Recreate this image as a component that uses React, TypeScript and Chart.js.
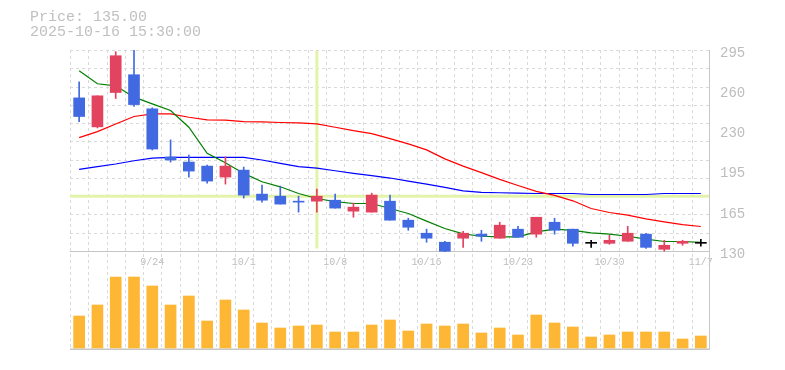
import React, { useEffect, useRef } from 'react';
import { Chart, registerables } from 'chart.js';

Chart.register(...registerables);

// ---------- data ----------
const DATES = [
  '9/17', '9/18', '9/19', '9/22', '9/24', '9/25', '9/26', '9/29', '9/30', '10/1',
  '10/2', '10/3', '10/6', '10/7', '10/8', '10/9', '10/10', '10/14', '10/15', '10/16',
  '10/17', '10/20', '10/21', '10/22', '10/23', '10/24', '10/27', '10/28', '10/29', '10/30',
  '10/31', '11/4', '11/5', '11/6', '11/7',
];

const OPEN = [
  255.7, 231.9, 260.1, 274.7, 246.7, 207.2, 203.0, 199.7, 190.7, 196.4,
  176.7, 175.0, 170.4, 170.9, 171.7, 162.7, 161.9, 170.9, 155.3, 144.6,
  137.2, 140.5, 143.8, 140.5, 147.9, 143.8, 153.6, 147.9, 136.3, 136.3,
  138.0, 143.8, 131.4, 136.3, 136.3,
];
const CLOSE = [
  240.4, 257.4, 290.3, 250.2, 213.7, 204.7, 195.6, 187.4, 199.7, 175.9,
  171.7, 168.5, 170.1, 175.0, 165.2, 166.0, 175.9, 155.3, 149.5, 140.5,
  129.8, 144.6, 142.1, 151.2, 141.3, 157.7, 147.0, 136.3, 136.3, 138.8,
  144.6, 133.0, 134.7, 138.0, 136.3,
];
const HIGH = [
  268.9, 257.4, 293.6, 295.0, 247.5, 221.2, 208.8, 200.5, 207.2, 198.9,
  184.1, 183.3, 175.0, 180.8, 176.7, 169.3, 177.5, 175.9, 156.9, 147.9,
  138.0, 146.2, 147.0, 153.6, 150.3, 157.7, 156.9, 147.9, 138.8, 142.9,
  150.3, 144.6, 138.8, 138.8, 139.6,
];
const LOW = [
  236.2, 231.0, 255.2, 248.6, 212.9, 203.0, 190.7, 185.7, 184.9, 173.4,
  170.1, 168.5, 161.9, 161.9, 165.2, 157.7, 161.9, 155.3, 147.0, 137.2,
  129.5, 133.0, 138.0, 140.5, 141.3, 141.3, 143.8, 133.9, 133.0, 135.5,
  138.0, 132.2, 129.8, 134.7, 133.9,
];

const MA_SHORT = [
  278.0, 267.3, 265.6, 256.3, 250.8, 245.3, 231.6, 210.2, 202.5, 193.7,
  186.8, 182.7, 177.2, 173.1, 170.6, 169.0, 169.0, 164.9, 160.8, 154.5,
  148.5, 144.1, 142.1, 141.6, 141.6, 145.7, 147.9, 147.0, 144.9, 143.8,
  142.1, 139.7, 137.8, 137.8, 137.0,
];
const MA_MID = [
  223.1, 228.0, 234.3, 240.4, 242.6, 242.6, 239.8, 237.6, 237.4, 236.2,
  236.0, 235.5, 235.2, 234.3, 231.6, 228.8, 226.4, 222.3, 217.9, 213.0,
  205.6, 199.7, 194.3, 188.8, 183.8, 178.9, 175.6, 171.2, 164.9, 161.6,
  159.4, 156.4, 153.9, 151.7, 150.1,
];
const MA_LONG = [
  197.0, 199.2, 201.4, 204.1, 206.3, 206.9, 206.9, 206.9, 206.9, 206.9,
  204.7, 202.0, 199.2, 198.1, 195.9, 193.7, 191.8, 189.9, 187.4, 184.9,
  182.2, 179.4, 178.1, 177.8, 177.5, 177.2, 177.2, 177.2, 176.4, 176.4,
  176.4, 176.4, 177.2, 177.2, 177.2,
];

const VOLUME = [
  32000, 43000, 71000, 71000, 62000, 43000, 52000, 27000, 48000, 38000,
  25000, 20000, 22000, 23000, 16000, 16000, 23000, 28000, 17000, 24000,
  22000, 24000, 15000, 20000, 13000, 33000, 25000, 21000, 11000, 13000,
  16000, 16000, 16000, 9000, 12000,
];

const PRICE_TICKS = [130, 163, 196, 229, 262, 295];
const PRICE_TICK_LABELS = ['130', '165', '195', '230', '260', '295'];
const PRICE_MIN = 130;
const PRICE_MAX = 295;
const PRICE_GRID_STEP = 15;
const X_LABEL_EVERY = 5;

const CROSS_INDEX = 13;
const CROSS_PRICE = 175;
const INFO_LINES = ['Price: 135.00', '2025-10-16 15:30:00'];

// ---------- layout / style ----------
const W = 785;
const H = 370;
const PRICE_SHARE = 201 / 300; // share of plot height used by price panel
const PRICE_AXIS_MIN = PRICE_MAX - (PRICE_MAX - PRICE_MIN) / PRICE_SHARE;
const VOL_AXIS_MIN = -2000;
const VOL_AXIS_MAX = 298000;

const UP = '#e2435f';
const DOWN = '#4169e1';
const FLAT = '#000000';
const VOL_COLOR = '#fdb734';
const GRID = '#d9d9d9';
const BORDER = '#c6c6c6';
const TEXT = '#bdbdbd';
const CROSS = '#e3f4aa';
const MONO = '"Liberation Mono", "DejaVu Sans Mono", monospace';

const candleColor = (i: number) =>
  CLOSE[i] > OPEN[i] ? UP : CLOSE[i] < OPEN[i] ? DOWN : FLAT;

const framePlugin = {
  id: 'frame',
  beforeDatasetsDraw(chart: any) {
    const { ctx, chartArea: a, scales } = chart;
    const x = scales.x;
    const y = scales.y;
    const slot = x.getPixelForValue(1) - x.getPixelForValue(0);
    const sepY = Math.round(y.getPixelForValue(PRICE_MIN)) + 0.5;
    ctx.save();
    // dashed grid
    ctx.strokeStyle = GRID;
    ctx.lineWidth = 1;
    ctx.setLineDash([3, 3]);
    ctx.beginPath();
    for (let i = 0; i < DATES.length; i++) {
      const px = Math.round(x.getPixelForValue(i) - slot / 2) + 0.5;
      ctx.moveTo(px, a.top);
      ctx.lineTo(px, a.bottom);
    }
    for (let v = PRICE_MIN + PRICE_GRID_STEP; v <= PRICE_MAX + 0.001; v += PRICE_GRID_STEP) {
      const py = Math.round(y.getPixelForValue(v)) + 0.5;
      ctx.moveTo(a.left, py);
      ctx.lineTo(a.right, py);
    }
    ctx.stroke();
    // crosshair
    ctx.setLineDash([]);
    ctx.strokeStyle = CROSS;
    ctx.lineWidth = 3;
    const cx = x.getPixelForValue(CROSS_INDEX);
    ctx.beginPath();
    ctx.moveTo(cx, a.top + 1);
    ctx.lineTo(cx, sepY - 3);
    ctx.stroke();
    const cy = y.getPixelForValue(CROSS_PRICE);
    ctx.beginPath();
    ctx.moveTo(a.left, cy);
    ctx.lineTo(a.right, cy);
    ctx.stroke();
    // solid borders
    ctx.strokeStyle = BORDER;
    ctx.lineWidth = 1;
    ctx.beginPath();
    ctx.moveTo(a.left, sepY);
    ctx.lineTo(a.right, sepY);
    ctx.moveTo(a.right - 0.5, a.top);
    ctx.lineTo(a.right - 0.5, a.bottom);
    ctx.stroke();
    ctx.lineWidth = 1.5;
    ctx.beginPath();
    ctx.moveTo(a.left, a.bottom - 0.75);
    ctx.lineTo(a.right, a.bottom - 0.75);
    ctx.stroke();
    ctx.restore();
  },
};

export default function App() {
  const ref = useRef<HTMLCanvasElement | null>(null);

  useEffect(() => {
    if (!ref.current) return;
    const colors = DATES.map((_, i) => candleColor(i));
    const chart = new Chart(ref.current, {
      type: 'bar',
      data: {
        labels: DATES,
        datasets: [
          {
            type: 'bar',
            label: 'Body',
            data: OPEN.map((o, i) => [o, CLOSE[i]]),
            backgroundColor: colors,
            barThickness: 11,
            grouped: false,
            minBarLength: 1,
            yAxisID: 'y',
            order: 0,
          } as any,
          {
            type: 'bar',
            label: 'Wick',
            data: LOW.map((l, i) => [l, HIGH[i]]),
            backgroundColor: colors,
            barThickness: 1,
            grouped: false,
            yAxisID: 'y',
            order: 1,
          } as any,
          {
            type: 'line',
            label: 'MA5',
            data: MA_SHORT,
            borderColor: '#008000',
            borderWidth: 1.2,
            pointRadius: 0,
            tension: 0,
            yAxisID: 'y',
            order: 2,
          } as any,
          {
            type: 'line',
            label: 'MA20',
            data: MA_MID,
            borderColor: '#ff0000',
            borderWidth: 1.2,
            pointRadius: 0,
            tension: 0,
            yAxisID: 'y',
            order: 3,
          } as any,
          {
            type: 'line',
            label: 'MA60',
            data: MA_LONG,
            borderColor: '#0000ff',
            borderWidth: 1.2,
            pointRadius: 0,
            tension: 0,
            yAxisID: 'y',
            order: 4,
          } as any,
          {
            type: 'bar',
            label: 'Volume',
            data: VOLUME,
            backgroundColor: VOL_COLOR,
            barThickness: 11,
            grouped: false,
            yAxisID: 'yVol',
            order: 5,
          } as any,
        ],
      },
      options: {
        animation: false,
        responsive: false,
        events: [],
        layout: { padding: { left: 70, top: 50, bottom: 20, right: 0 } },
        plugins: {
          legend: { display: false },
          tooltip: { enabled: false },
        },
        scales: {
          x: { type: 'category', display: false, offset: true },
          xLab: {
            type: 'category',
            position: { y: PRICE_MIN } as any,
            offset: true,
            grid: { display: false, drawTicks: false },
            border: { display: false },
            afterFit: (s: any) => {
              s.height = 0;
            },
            ticks: {
              autoSkip: false,
              maxRotation: 0,
              minRotation: 0,
              padding: 5,
              color: TEXT,
              font: { family: MONO, size: 10 },
              callback: (_v: any, i: number) =>
                (i + 1) % X_LABEL_EVERY === 0 ? DATES[i] : '',
            },
          },
          y: {
            type: 'linear',
            display: false,
            min: PRICE_AXIS_MIN,
            max: PRICE_MAX,
          },
          yLab: {
            type: 'linear',
            position: 'right',
            min: PRICE_AXIS_MIN,
            max: PRICE_MAX,
            grid: { display: false, drawTicks: false },
            border: { display: false },
            afterBuildTicks: (s: any) => {
              s.ticks = PRICE_TICKS.map((v) => ({ value: v }));
            },
            afterFit: (s: any) => {
              s.width = 75;
            },
            ticks: {
              padding: 10,
              labelOffset: 3,
              color: TEXT,
              font: { family: MONO, size: 14 },
              callback: (_v: any, i: number) => PRICE_TICK_LABELS[i],
            },
          },
          yVol: {
            type: 'linear',
            display: false,
            min: VOL_AXIS_MIN,
            max: VOL_AXIS_MAX,
          },
        } as any,
      },
      plugins: [framePlugin],
    });
    return () => chart.destroy();
  }, []);

  return (
    <div
      style={{
        position: 'fixed',
        left: 0,
        top: 0,
        width: W,
        height: H,
        background: '#ffffff',
      }}
    >
      <canvas ref={ref} width={W} height={H} style={{ display: 'block', width: W, height: H }} />
      <div
        style={{
          position: 'absolute',
          left: 30,
          top: 10,
          font: `15px ${MONO}`,
          lineHeight: '15px',
          color: '#c0c0c0',
          whiteSpace: 'pre',
        }}
      >
        {INFO_LINES.map((l) => (
          <div key={l}>{l}</div>
        ))}
      </div>
    </div>
  );
}
